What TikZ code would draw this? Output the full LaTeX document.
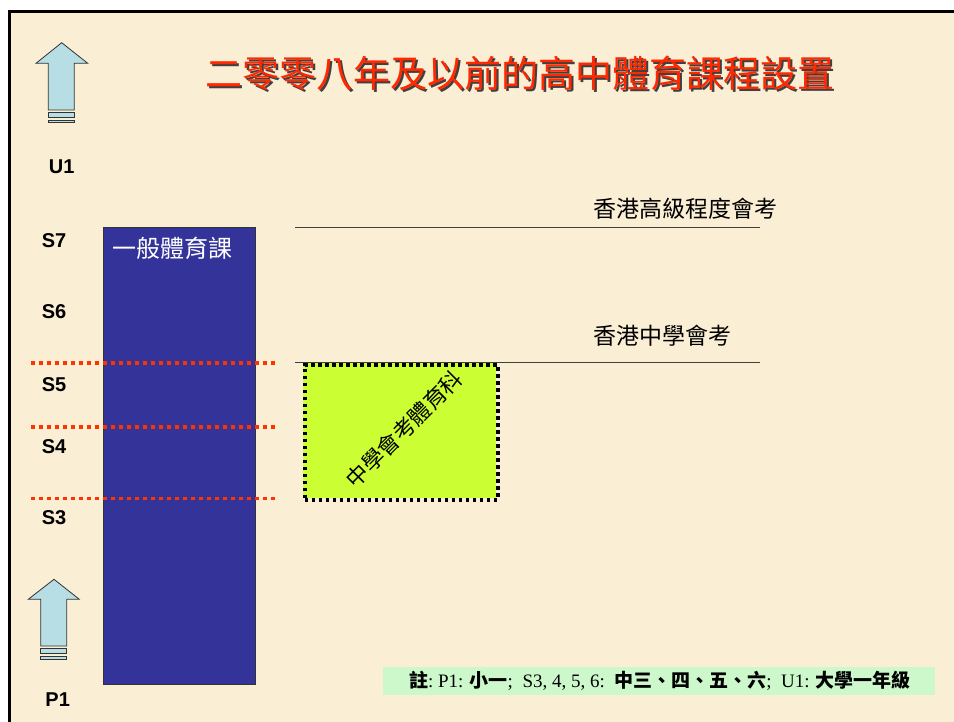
\documentclass[tikz,border=0pt]{standalone}
\usepackage{fontspec}
\setmainfont{Liberation Serif}
\setsansfont{Liberation Sans}
\newfontfamily\cjk{Noto Sans CJK TC}
\definecolor{parch}{RGB}{250,238,212}
\definecolor{titlered}{RGB}{255,40,0}
\definecolor{arrowblue}{RGB}{183,222,228}
\definecolor{genblue}{RGB}{51,51,153}
\definecolor{dotred}{RGB}{255,51,0}
\definecolor{limegreen}{RGB}{204,255,51}
\definecolor{notegreen}{RGB}{204,248,204}
\newcommand{\titletext}{二零零八年及以前的高中體育課程設置}
\begin{document}
\begin{tikzpicture}[x=1pt,y=-1pt,
  arrowbody/.style={fill=arrowblue,draw=black!80,line width=0.8pt,line join=miter},
  lvl/.style={font=\sffamily\bfseries\fontsize{20}{20}\selectfont,inner sep=0pt},
  reddot/.style={draw=dotred,line width=3.6pt,dash pattern=on 3.6pt off 4.4pt},
  examline/.style={draw=black!75,line width=0.8pt},
  examtext/.style={font=\cjk\fontsize{23}{23}\selectfont,inner sep=0pt,anchor=west}]
\useasboundingbox (0,0) rectangle (954,722);
\fill[white] (0,0) rectangle (954,722);
\fill[parch] (9,12) rectangle (954,722);
\draw[line width=3pt] (954,12) -- (9,12) -- (9,722);
% title with shadow (one node)
\node[font=\cjk\fontsize{37}{37}\selectfont,inner sep=0pt] (title) at (520,74)
  {\rlap{\hspace{2.2pt}\raisebox{-2.2pt}{\textcolor{black!75}{\titletext}}}\textcolor{titlered}{\titletext}};
% top arrow
\draw[arrowbody] (61.7,42.7) -- (87.7,63.3) -- (74.3,63.3) -- (74.3,110) -- (48.3,110) -- (48.3,63.3) -- (36,63.3) -- cycle;
\draw[arrowbody] (48.3,112) rectangle (74.3,117.3);
\draw[arrowbody] (48.3,120) rectangle (74.3,122.7);
% bottom arrow
\draw[arrowbody] (54,579.3) -- (79.3,599.3) -- (66.7,599.3) -- (66.7,646) -- (40.7,646) -- (40.7,599.3) -- (28.3,599.3) -- cycle;
\draw[arrowbody] (40.7,648.7) rectangle (66.7,653.3);
\draw[arrowbody] (40.7,656) rectangle (66.7,659.3);
% level labels
\node[lvl] (u1) at (61.7,166.7) {U1};
\node[lvl] (s7) at (54,240.7) {S7};
\node[lvl] (s6) at (54,311.7) {S6};
\node[lvl] (s5) at (54,385) {S5};
\node[lvl] (s4) at (54,446.7) {S4};
\node[lvl] (s3) at (54,518) {S3};
\node[lvl] (p1) at (57.7,700) {P1};
% general PE block
\node[draw=black!80,line width=0.8pt,fill=genblue,minimum width=152pt,minimum height=457pt,anchor=north west,inner sep=0pt] (general) at (103,227) {};
\node[font=\cjk\fontsize{24}{24}\selectfont,text=white,anchor=west,inner sep=0pt] (generaltext) at (112.5,248) {一般體育課};
% red dotted lines
\draw[reddot] (31,362.7) -- (275,362.7);
\draw[reddot] (31,426.7) -- (275,426.7);
\draw[reddot] (31,498.5) -- (275,498.5);
% exam lines
\draw[examline] (295,227) -- (760,227);
\draw[examline] (295,362.5) -- (760,362.5);
\node[examtext] (alevel) at (593,209) {香港高級程度會考};
\node[examtext] (hkcee) at (593,336) {香港中學會考};
% HKCEE PE box
\fill[limegreen] (303,363) rectangle (496,498);
\node[draw=black,line width=3.6pt,dash pattern=on 3.6pt off 3.4pt,minimum width=193pt,minimum height=135pt,anchor=north west,inner sep=0pt] (cepe) at (303,363) {};
\node[font=\cjk\fontsize{22}{22}\selectfont,rotate=45,inner sep=0pt] (cepetext) at (404,429) {中學會考體育科};
% note
\node[fill=notegreen,minimum width=552pt,minimum height=28pt,anchor=north west,inner sep=0pt] (notebox) at (383,667) {};
\node[font=\fontsize{19}{19}\selectfont,inner sep=0pt] (notetext) at (660,681) {{\cjk\bfseries 註}:\ P1: {\cjk\bfseries 小一};\ \ S3, 4, 5, 6:\ \ {\cjk\bfseries 中三、四、五、六};\ \ U1: {\cjk\bfseries 大學一年級}};
\end{tikzpicture}
\end{document}
